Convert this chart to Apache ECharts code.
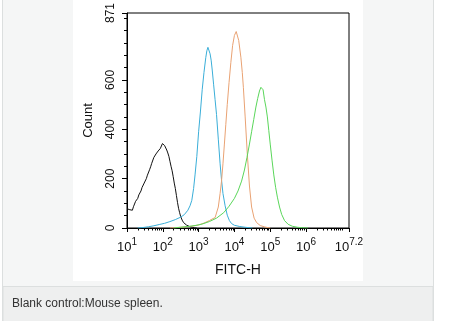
<!DOCTYPE html>
<html><head><meta charset="utf-8">
<script src="https://cdn.jsdelivr.net/npm/echarts@6/dist/echarts.min.js"></script>
<style>html,body{margin:0;padding:0;background:#fff;}#c{width:454px;height:321px;}</style>
</head><body><div id="c"></div>
<script>
// x values are log10(FITC-H)
const xTickExponents = [1, 2, 3, 4, 5, 6, 7.2];
const yTickValues = [0, 200, 400, 600, 871];
const yMinorValues = [50,100,150,250,300,350,450,500,550,650,700,750,800,850];

const blackX = [1.0,1.04,1.08,1.12,1.15,1.18,1.21,1.24,1.27,1.3,1.33,1.36,1.39,1.42,1.45,1.48,1.51,1.54,1.57,1.6,1.63,1.66,1.69,1.72,1.75,1.78,1.81,1.84,1.87,1.9,1.93,1.96,1.99,2.02,2.05,2.08,2.11,2.14,2.17,2.2,2.23,2.26,2.29,2.32,2.35,2.38,2.41,2.44,2.47,2.5,2.54,2.58,2.62,2.66,2.7,2.76,2.82,2.88,2.95];
const blackY = [78,80,74,70,72,86,92,108,116,120,134,138,150,164,168,182,186,200,214,220,236,248,262,270,286,292,300,308,312,316,322,330,342,338,334,328,316,304,290,270,250,232,208,182,160,132,104,80,62,46,32,22,16,12,8,5,3,1,0];

const cyanX = [1.3,1.45,1.6,1.75,1.9,2.05,2.2,2.35,2.5,2.6,2.7,2.76,2.81,2.86,2.9,2.95,3.0,3.05,3.1,3.15,3.2,3.23,3.26,3.29,3.32,3.35,3.38,3.42,3.46,3.5,3.55,3.6,3.64,3.68,3.74,3.8,3.86,3.92,4.0,4.15,4.3,4.5];
const cyanY = [0,2,5,9,14,19,26,34,44,54,72,90,112,160,215,290,390,470,560,630,690,718,732,726,706,680,640,580,520,460,360,260,195,140,90,52,30,18,11,6,3,0];

const orangeX = [2.2,2.4,2.6,2.8,3.0,3.15,3.3,3.4,3.46,3.5,3.55,3.6,3.64,3.68,3.72,3.76,3.8,3.85,3.9,3.95,4.0,4.05,4.08,4.12,4.18,4.22,4.25,4.3,4.36,4.42,4.48,4.55,4.62,4.72,4.85,5.0];
const orangeY = [0,2,4,7,12,20,30,38,42,45,85,140,190,260,340,420,500,590,670,740,780,796,793,760,692,630,570,450,300,170,85,40,22,10,4,0];

const greenX = [2.3,2.5,2.7,2.9,3.1,3.3,3.5,3.7,3.85,4.0,4.1,4.2,4.28,4.35,4.42,4.48,4.54,4.6,4.65,4.7,4.74,4.77,4.8,4.84,4.88,4.92,4.96,5.0,5.05,5.1,5.15,5.2,5.26,5.32,5.4,5.5,5.62,5.76,5.9,6.05];
const greenY = [0,3,6,10,16,26,40,62,88,120,150,190,235,285,340,390,440,490,525,555,570,574,560,520,490,450,395,340,275,215,165,125,85,55,30,15,7,3,1,0];

const pairs = (xs, ys) => xs.map((x, i) => [x, ys[i]]);

// minor tick positions for the log axis (2..9 x 10^d)
const xMinorTicks = [];
for (let d = 1; d <= 6; d++) for (let k = 2; k <= 9; k++) xMinorTicks.push(Math.log10(k * Math.pow(10, d)));
xMinorTicks.push(7);

const FONT = '"Liberation Sans", Arial, sans-serif';
const chart = echarts.init(document.getElementById('c'), null, {renderer: 'canvas'});
const lineSeries = (name, xs, ys, color) => ({
  name, type: 'line', xAxisIndex: 0, yAxisIndex: 0, data: pairs(xs, ys),
  showSymbol: false, symbol: 'none', lineStyle: {color, width: 1}, itemStyle: {color}, z: 3, animation: false
});

chart.setOption({
  backgroundColor: '#ffffff',
  animation: false,
  graphic: [
    {type: 'rect', z: -10, shape: {x: 2.5, y: -2, width: 431, height: 330}, style: {fill: '#f5f6f6', stroke: '#dcdfdf', lineWidth: 1}},
    {type: 'rect', z: -9, shape: {x: 3, y: 286.5, width: 430, height: 40}, style: {fill: '#eeefef', stroke: '#dcdfdf', lineWidth: 1}},
    {type: 'rect', z: -8, shape: {x: 73, y: 0, width: 290, height: 281}, style: {fill: '#ffffff'}},
    {type: 'text', z: 5, x: 12, y: 304, style: {text: 'Blank control:Mouse spleen.', font: '12px ' + FONT, fill: '#333333', verticalAlign: 'middle'}}
  ],
  grid: {left: 127, right: 105, top: 8, bottom: 93, show: true, borderColor: '#000', borderWidth: 1, backgroundColor: 'transparent', containLabel: false},
  xAxis: [
    {
      type: 'value', min: 1, max: 7.2, position: 'bottom',
      name: 'FITC-H', nameLocation: 'middle', nameGap: 35,
      nameTextStyle: {fontFamily: FONT, fontSize: 14, color: '#111'},
      axisLine: {show: true, lineStyle: {color: '#000', width: 1}},
      axisTick: {show: true, length: 4, customValues: xTickExponents, lineStyle: {color: '#000'}},
      splitLine: {show: false},
      axisLabel: {
        show: true, margin: 9, customValues: xTickExponents,
        formatter: v => '{b|10}{s|' + (Math.round(v * 10) / 10) + '}',
        rich: {
          b: {fontFamily: FONT, fontSize: 13, color: '#111', lineHeight: 20},
          s: {fontFamily: FONT, fontSize: 10, color: '#111', lineHeight: 10, verticalAlign: 'top'}
        }
      }
    },
    {
      type: 'value', min: 1, max: 7.2, position: 'bottom', gridIndex: 0,
      axisLine: {show: false}, splitLine: {show: false}, axisLabel: {show: false},
      axisTick: {show: true, length: 2.5, customValues: xMinorTicks, lineStyle: {color: '#000'}}
    }
  ],
  yAxis: [
    {
      type: 'value', min: 0, max: 871, position: 'left',
      name: 'Count', nameLocation: 'middle', nameGap: 32, nameRotate: 90,
      nameTextStyle: {fontFamily: FONT, fontSize: 13, color: '#111'},
      axisLine: {show: true, lineStyle: {color: '#000', width: 1}},
      axisTick: {show: true, length: 5, customValues: yTickValues, lineStyle: {color: '#000'}},
      splitLine: {show: false},
      axisLabel: {show: true, customValues: yTickValues, rotate: 90, margin: 10, align: 'center', verticalAlign: 'bottom', fontFamily: FONT, fontSize: 12, color: '#111'}
    },
    {
      type: 'value', min: 0, max: 871, position: 'left', offset: 0,
      axisLine: {show: false}, splitLine: {show: false}, axisLabel: {show: false},
      axisTick: {show: true, length: 3, customValues: yMinorValues, lineStyle: {color: '#000'}}
    }
  ],
  series: [
    lineSeries('blank', blackX, blackY, '#111111'),
    lineSeries('cyan', cyanX, cyanY, '#3aaed8'),
    lineSeries('orange', orangeX, orangeY, '#e9a273'),
    lineSeries('green', greenX, greenY, '#5ad65a')
  ]
});
</script></body></html>
